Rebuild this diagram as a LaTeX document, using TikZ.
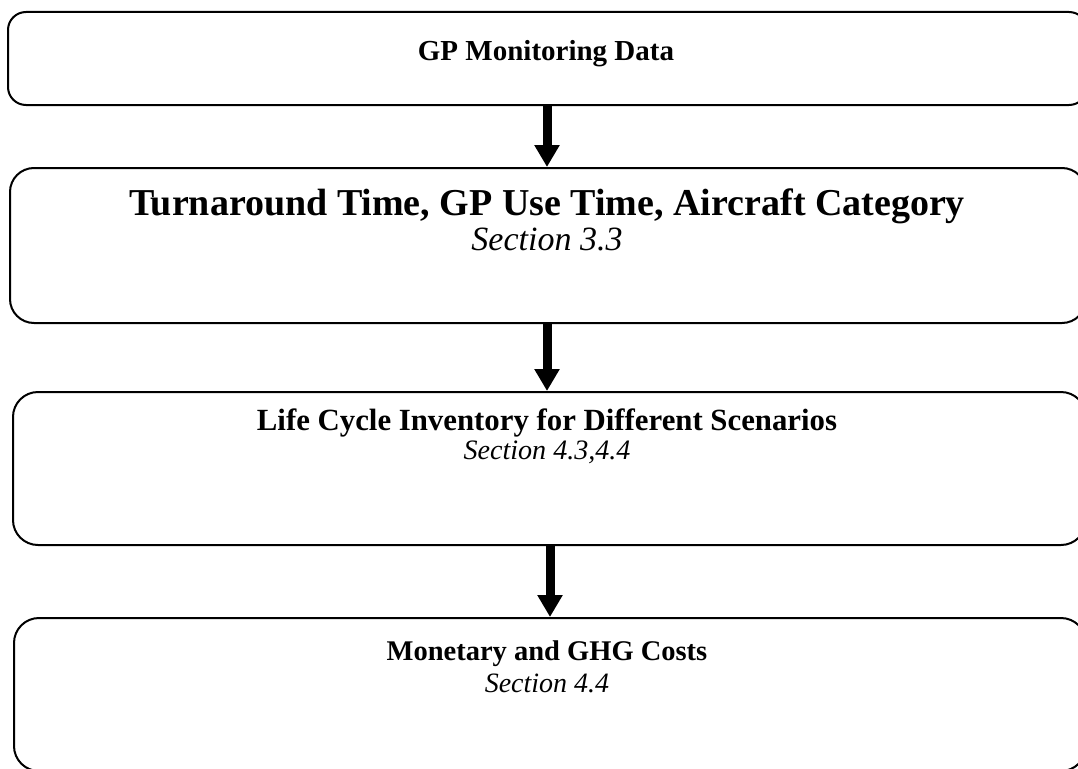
\documentclass[tikz,border=0pt]{standalone}
\usepackage{fontspec}
\setmainfont{Liberation Serif}
\usetikzlibrary{arrows.meta}
\begin{document}
\begin{tikzpicture}[x=1pt,y=1pt,
  box/.style={draw=black, line width=2pt, rectangle, anchor=north west, inner sep=0pt},
  txt/.style={inner sep=0pt},
  flow/.style={line width=9pt, -{Triangle[width=24pt,length=22pt]}}]
\useasboundingbox (0,0) rectangle (1078,-768);
\node[box, rounded corners=18pt, minimum width=1079pt, minimum height=93pt] (b1) at (7,-11) {};
\node[box, rounded corners=24pt, minimum width=1076pt, minimum height=155pt] (b2) at (9,-167) {};
\node[box, rounded corners=25pt, minimum width=1073pt, minimum height=153pt] (b3) at (12,-391) {};
\node[box, rounded corners=25pt, minimum width=1072pt, minimum height=153pt] (b4) at (13,-617) {};
\node[txt, font=\fontsize{29}{32}\selectfont\bfseries] (t1) at (546,-54) {GP Monitoring Data};
\node[txt, font=\fontsize{38}{42}\selectfont\bfseries] (t2) at (547,-206) {Turnaround Time, GP Use Time, Aircraft Category};
\node[txt, font=\fontsize{34}{38}\selectfont\itshape] (s2) at (547,-239) {Section 3.3};
\node[txt, font=\fontsize{30.8}{34}\selectfont\bfseries] (t3) at (547,-423) {Life Cycle Inventory for Different Scenarios};
\node[txt, font=\fontsize{28.1}{31}\selectfont\itshape] (s3) at (547,-452) {Section 4.3,4.4};
\node[txt, font=\fontsize{28.5}{31}\selectfont\bfseries] (t4) at (547,-654) {Monetary and GHG Costs};
\node[txt, font=\fontsize{28}{31}\selectfont\itshape] (s4) at (547,-683) {Section 4.4};
\draw[flow] (b1.south -| 547,0) -- (b2.north -| 547,0);
\draw[flow] (b2.south -| 547,0) -- (b3.north -| 547,0);
\draw[flow] (b3.south -| 550,0) -- (b4.north -| 550,0);
\end{tikzpicture}
\end{document}
